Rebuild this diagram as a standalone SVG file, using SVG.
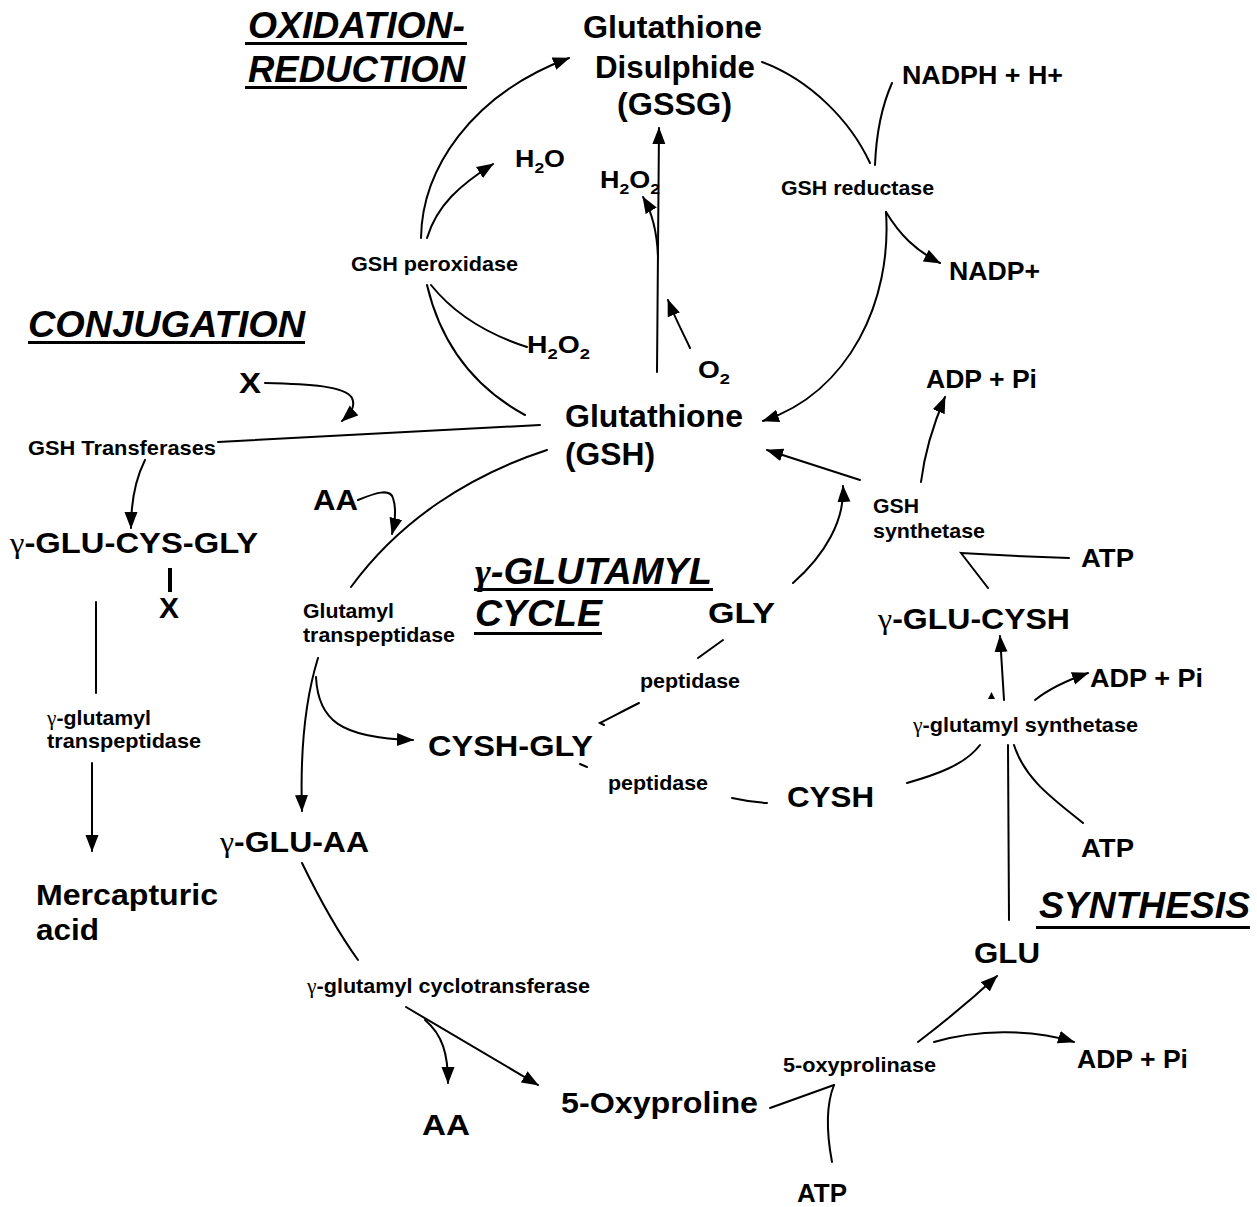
<svg xmlns="http://www.w3.org/2000/svg" width="1257" height="1207" viewBox="0 0 1257 1207">
<style>
text{font-family:"Liberation Sans",Arial,sans-serif;font-weight:bold;fill:#000;}
.hd{font-size:36px;font-style:italic;}
.lg{font-size:32px;}
.md{font-size:30px;}
.sm{font-size:25px;}
.ch{font-size:23px;}
.en{font-size:21px;}
.sub{font-size:15px;}
.g{font-family:"Liberation Serif","Times New Roman",serif;font-weight:normal;}
.ul{fill:#000;}
.c{fill:none;stroke:#000;stroke-width:2;stroke-linecap:round;}
.a{marker-end:url(#ah);}
</style>
<defs>
<marker id="ah" markerUnits="userSpaceOnUse" markerWidth="17" markerHeight="14" viewBox="0 0 17 14" refX="16" refY="7" orient="auto"><path d="M0,0.5 L17,7 L0,13.5 z" fill="#000"/></marker>
</defs>
<rect width="1257" height="1207" fill="#fff"/>

<g id="headers">
<g id="h-oxred">
<text class="hd" x="248" y="38" textLength="217" lengthAdjust="spacingAndGlyphs">OXIDATION-</text>
<rect class="ul" x="245" y="42" width="222" height="3"/>
<text class="hd" x="248" y="82" textLength="217" lengthAdjust="spacingAndGlyphs">REDUCTION</text>
<rect class="ul" x="245" y="86" width="222" height="3"/>
</g>
<g id="h-conj">
<text class="hd" x="28" y="337" textLength="277" lengthAdjust="spacingAndGlyphs">CONJUGATION</text>
<rect class="ul" x="28" y="341" width="277" height="3"/>
</g>
<g id="h-cycle">
<text class="hd" x="475" y="584" textLength="237" lengthAdjust="spacingAndGlyphs"><tspan class="g" style="font-weight:bold">γ</tspan>-GLUTAMYL</text>
<rect class="ul" x="474" y="588" width="239" height="3"/>
<text class="hd" x="475" y="626" textLength="127" lengthAdjust="spacingAndGlyphs">CYCLE</text>
<rect class="ul" x="474" y="632" width="128" height="3"/>
</g>
<g id="h-synth">
<text class="hd" x="1039" y="918" textLength="211" lengthAdjust="spacingAndGlyphs">SYNTHESIS</text>
<rect class="ul" x="1036" y="926" width="214" height="3"/>
</g>
</g>

<g id="n-gssg">
<text class="lg" x="583" y="38" textLength="179" lengthAdjust="spacingAndGlyphs">Glutathione</text>
<text class="lg" x="595" y="78" textLength="160" lengthAdjust="spacingAndGlyphs">Disulphide</text>
<text class="lg" x="617" y="115" textLength="115" lengthAdjust="spacingAndGlyphs">(GSSG)</text>
</g>
<g id="n-gsh">
<text class="lg" x="565" y="427" textLength="178" lengthAdjust="spacingAndGlyphs">Glutathione</text>
<text class="lg" x="565" y="465" textLength="90" lengthAdjust="spacingAndGlyphs">(GSH)</text>
</g>
<g id="n-nadph"><text class="sm" x="902" y="84" textLength="161" lengthAdjust="spacingAndGlyphs">NADPH + H+</text></g>
<g id="n-nadp"><text class="sm" x="949" y="280" textLength="91" lengthAdjust="spacingAndGlyphs">NADP+</text></g>
<g id="n-gshred"><text class="en" x="781" y="195" textLength="153" lengthAdjust="spacingAndGlyphs">GSH reductase</text></g>
<g id="n-gshperox"><text class="en" x="351" y="271" textLength="167" lengthAdjust="spacingAndGlyphs">GSH peroxidase</text></g>
<g id="n-h2o"><text class="ch" x="515" y="167" textLength="50" lengthAdjust="spacingAndGlyphs">H<tspan class="sub" dy="6">2</tspan><tspan dy="-6">O</tspan></text></g>
<g id="n-h2o2a"><text class="ch" x="600" y="188" textLength="60" lengthAdjust="spacingAndGlyphs">H<tspan class="sub" dy="6">2</tspan><tspan dy="-6">O</tspan><tspan class="sub" dy="6">2</tspan></text></g>
<g id="n-h2o2b"><text class="ch" x="527" y="353" textLength="63" lengthAdjust="spacingAndGlyphs">H<tspan class="sub" dy="6">2</tspan><tspan dy="-6">O</tspan><tspan class="sub" dy="6">2</tspan></text></g>
<g id="n-o2"><text class="ch" x="698" y="378" textLength="32" lengthAdjust="spacingAndGlyphs">O<tspan class="sub" dy="6">2</tspan></text></g>
<g id="n-adp1"><text class="sm" x="926" y="388" textLength="111" lengthAdjust="spacingAndGlyphs">ADP + Pi</text></g>
<g id="n-x1"><text class="md" x="239" y="393" textLength="22" lengthAdjust="spacingAndGlyphs">X</text></g>
<g id="n-gsht"><text class="en" x="28" y="455" textLength="188" lengthAdjust="spacingAndGlyphs">GSH Transferases</text></g>
<g id="n-gcg">
<text class="md" x="10" y="553" textLength="248" lengthAdjust="spacingAndGlyphs"><tspan class="g">γ</tspan>-GLU-CYS-GLY</text>
<line x1="170" y1="568" x2="170" y2="592" stroke="#000" stroke-width="4"/>
<text class="md" x="159" y="618" textLength="20" lengthAdjust="spacingAndGlyphs">X</text>
</g>
<g id="n-ggt"><text class="en" x="47" y="725" textLength="104" lengthAdjust="spacingAndGlyphs"><tspan class="g">γ</tspan>-glutamyl</text>
<text class="en" x="47" y="748" textLength="154" lengthAdjust="spacingAndGlyphs">transpeptidase</text></g>
<g id="n-merc"><text class="md" x="36" y="905" textLength="182" lengthAdjust="spacingAndGlyphs">Mercapturic</text>
<text class="md" x="36" y="940" textLength="63" lengthAdjust="spacingAndGlyphs">acid</text></g>
<g id="n-aa1"><text class="md" x="313" y="510" textLength="45" lengthAdjust="spacingAndGlyphs">AA</text></g>
<g id="n-gtp"><text class="en" x="303" y="618" textLength="91" lengthAdjust="spacingAndGlyphs">Glutamyl</text>
<text class="en" x="303" y="642" textLength="152" lengthAdjust="spacingAndGlyphs">transpeptidase</text></g>
<g id="n-gshsyn"><text class="en" x="873" y="513" textLength="46" lengthAdjust="spacingAndGlyphs">GSH</text>
<text class="en" x="873" y="538" textLength="112" lengthAdjust="spacingAndGlyphs">synthetase</text></g>
<g id="n-atp1"><text class="sm" x="1081" y="567" textLength="53" lengthAdjust="spacingAndGlyphs">ATP</text></g>
<g id="n-gly"><text class="md" x="708" y="623" textLength="67" lengthAdjust="spacingAndGlyphs">GLY</text></g>
<g id="n-gglucysh"><text class="md" x="878" y="629" textLength="192" lengthAdjust="spacingAndGlyphs"><tspan class="g">γ</tspan>-GLU-CYSH</text></g>
<g id="n-pep1"><text class="en" x="640" y="688" textLength="100" lengthAdjust="spacingAndGlyphs">peptidase</text></g>
<g id="n-adp2"><text class="sm" x="1090" y="687" textLength="113" lengthAdjust="spacingAndGlyphs">ADP + Pi</text></g>
<g id="n-gglusyn"><text class="en" x="913" y="732" textLength="225" lengthAdjust="spacingAndGlyphs"><tspan class="g">γ</tspan>-glutamyl synthetase</text>
<path d="M988,699 L991.5,692 L995,699 z" fill="#000"/></g>
<g id="n-cyshgly"><text class="md" x="428" y="756" textLength="165" lengthAdjust="spacingAndGlyphs">CYSH-GLY</text></g>
<g id="n-pep2"><text class="en" x="608" y="790" textLength="100" lengthAdjust="spacingAndGlyphs">peptidase</text></g>
<g id="n-cysh"><text class="md" x="787" y="807" textLength="87" lengthAdjust="spacingAndGlyphs">CYSH</text></g>
<g id="n-gluaa"><text class="md" x="220" y="852" textLength="149" lengthAdjust="spacingAndGlyphs"><tspan class="g">γ</tspan>-GLU-AA</text></g>
<g id="n-atp2"><text class="sm" x="1081" y="857" textLength="53" lengthAdjust="spacingAndGlyphs">ATP</text></g>
<g id="n-glu"><text class="md" x="974" y="963" textLength="66" lengthAdjust="spacingAndGlyphs">GLU</text></g>
<g id="n-gct"><text class="en" x="307" y="993" textLength="283" lengthAdjust="spacingAndGlyphs"><tspan class="g">γ</tspan>-glutamyl cyclotransferase</text></g>
<g id="n-adp3"><text class="sm" x="1077" y="1068" textLength="111" lengthAdjust="spacingAndGlyphs">ADP + Pi</text></g>
<g id="n-oxyase"><text class="en" x="783" y="1072" textLength="153" lengthAdjust="spacingAndGlyphs">5-oxyprolinase</text></g>
<g id="n-oxypro"><text class="md" x="561" y="1113" textLength="197" lengthAdjust="spacingAndGlyphs">5-Oxyproline</text></g>
<g id="n-aa2"><text class="md" x="422" y="1135" textLength="48" lengthAdjust="spacingAndGlyphs">AA</text></g>
<g id="n-atp3"><text class="sm" x="797" y="1202" textLength="50" lengthAdjust="spacingAndGlyphs">ATP</text></g>

<g id="connectors">
<path class="c a" d="M421,238 C422,170 470,95 569,58"/>
<path class="c a" d="M427,238 C437,205 460,185 493,164"/>
<path class="c" d="M427,285 C440,340 470,385 525,415"/>
<path class="c" d="M431,285 C455,315 490,335 527,347"/>
<path class="c a" d="M657,372 L659,128"/>
<path class="c a" d="M658,257 C657,230 652,212 643,197"/>
<path class="c a" d="M690,348 C683,333 675,318 668,300"/>
<path class="c" d="M762,62 C810,80 850,120 870,163"/>
<path class="c" d="M892,83 C880,110 876,140 875,165"/>
<path class="c a" d="M886,212 C892,300 850,392 763,421"/>
<path class="c a" d="M886,212 C900,235 915,250 940,263"/>
<path class="c a" d="M265,383 C310,384 345,386 352,398 C356,407 350,414 342,421"/>
<path class="c" d="M218,442 L540,425"/>
<path class="c a" d="M145,460 C135,480 131,500 131,528"/>
<path class="c" d="M96,602 L96,693"/>
<path class="c a" d="M92,763 L92,851"/>
<path class="c" d="M547,450 C470,475 400,520 351,587"/>
<path class="c a" d="M358,500 C375,493 390,488 393,498 C397,510 395,522 392,534"/>
<path class="c a" d="M318,658 C305,700 300,750 302,811"/>
<path class="c a" d="M316,677 C318,720 340,738 413,740"/>
<path class="c" d="M723,640 L698,658"/>
<path class="c" d="M639,703 C625,710 610,718 600,723 L604,725"/>
<path class="c" d="M580,764 L587,767"/>
<path class="c" d="M732,798 Q750,802 767,803"/>
<path class="c a" d="M793,583 C825,555 845,520 843,486"/>
<path class="c a" d="M860,480 L767,450"/>
<path class="c a" d="M921,482 C925,450 933,425 945,397"/>
<path class="c" d="M1069,558 Q1010,556 961,553 L988,588"/>
<path class="c a" d="M1004,700 L1000,636"/>
<path class="c a" d="M1035,700 C1050,688 1068,680 1088,673"/>
<path class="c" d="M907,783 C935,775 965,765 980,745"/>
<path class="c" d="M1008,745 L1009,920"/>
<path class="c" d="M1014,745 C1025,780 1055,800 1083,823"/>
<path class="c" d="M302,863 C320,900 340,935 358,960"/>
<path class="c a" d="M406,1007 L538,1085"/>
<path class="c a" d="M425,1020 C443,1035 448,1055 448,1083"/>
<path class="c" d="M770,1108 L834,1085"/>
<path class="c" d="M832,1162 C826,1130 826,1105 834,1085"/>
<path class="c a" d="M918,1042 Q960,1010 997,976"/>
<path class="c a" d="M934,1042 C975,1030 1030,1028 1074,1042"/>
</g>
</svg>
